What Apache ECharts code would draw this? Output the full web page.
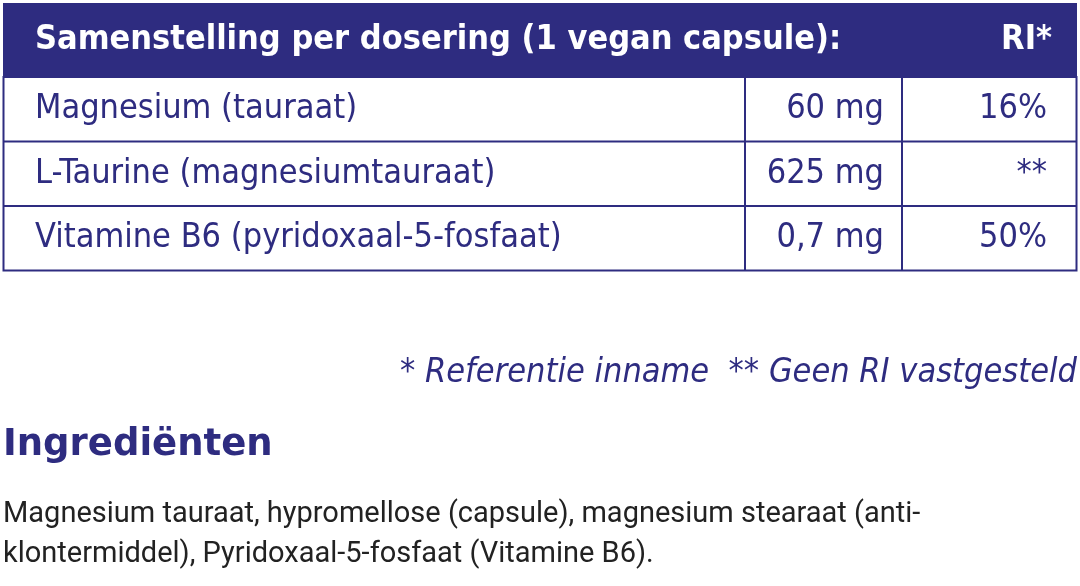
<!DOCTYPE html>
<html>
<head>
<meta charset="utf-8">
<script src="https://cdn.jsdelivr.net/npm/echarts@6/dist/echarts.min.js"></script>
<style>
html, body { margin: 0; padding: 0; background: #fff; }
#main { width: 1080px; height: 586px; }
</style>
</head>
<body>
<div id="main"></div>
<script>
var headerTitle = 'Samenstelling per dosering (1 vegan capsule):';
var headerRI = 'RI*';
var names = ['Magnesium (tauraat)', 'L-Taurine (magnesiumtauraat)', 'Vitamine B6 (pyridoxaal-5-fosfaat)'];
var amounts = ['60 mg', '625 mg', '0,7 mg'];
var riValues = ['16%', '**', '50%'];
var footnote = '* Referentie inname  ** Geen RI vastgesteld';
var ingrTitle = 'Ingrediënten';
var ingrLines = [
    'Magnesium tauraat, hypromellose (capsule), magnesium stearaat (anti-',
    'klontermiddel), Pyridoxaal-5-fosfaat (Vitamine B6).'
];

var navy = '#2e2c80';
var cond = '"Liberation Sans Narrow", "DejaVu Sans Condensed", sans-serif';

var chart = echarts.init(document.getElementById('main'));

var els = [];
// header
els.push({ type: 'rect', shape: { x: 3, y: 3, width: 1074, height: 74 }, style: { fill: navy } });
els.push({ type: 'text', x: 35, y: 40, style: { text: headerTitle, fill: '#fff', font: 'bold 34px ' + cond, textVerticalAlign: 'middle' } });
els.push({ type: 'text', x: 1052, y: 40, style: { text: headerRI, fill: '#fff', font: 'bold 34px ' + cond, textAlign: 'right', textVerticalAlign: 'middle' } });

var rowTop = 77, rowH = 64.5;
// outer border + lines
els.push({ type: 'rect', shape: { x: 3.5, y: rowTop, width: 1073, height: rowH * names.length }, style: { fill: 'none', stroke: navy, lineWidth: 2 } });
for (var i = 1; i < names.length; i++) {
    els.push({ type: 'line', shape: { x1: 3, y1: rowTop + rowH * i, x2: 1077, y2: rowTop + rowH * i }, style: { stroke: navy, lineWidth: 2 } });
}
[745, 902].forEach(function (x) {
    els.push({ type: 'line', shape: { x1: x, y1: rowTop, x2: x, y2: rowTop + rowH * names.length }, style: { stroke: navy, lineWidth: 2 } });
});
names.forEach(function (n, i) {
    var cy = rowTop + rowH * i + rowH / 2;
    els.push({ type: 'text', x: 35, y: cy, style: { text: n, fill: navy, font: '34px ' + cond, textVerticalAlign: 'middle' } });
    els.push({ type: 'text', x: 884, y: cy, style: { text: amounts[i], fill: navy, font: '34px ' + cond, textAlign: 'right', textVerticalAlign: 'middle' } });
    els.push({ type: 'text', x: 1047, y: cy, style: { text: riValues[i], fill: navy, font: '34px ' + cond, textAlign: 'right', textVerticalAlign: 'middle' } });
});
// footnote
els.push({ type: 'text', x: 1077, y: 373, style: { text: footnote, fill: navy, font: 'italic 34px ' + cond, textAlign: 'right', textVerticalAlign: 'middle' } });
// ingredients
els.push({ type: 'text', x: 3, y: 445, style: { text: ingrTitle, fill: navy, font: 'bold 37px "DejaVu Sans", sans-serif', textVerticalAlign: 'middle' } });
ingrLines.forEach(function (l, i) {
    els.push({ type: 'text', x: 3, y: 515 + i * 40, style: { text: l, fill: '#222', font: '29px Roboto, "Noto Sans", sans-serif', textVerticalAlign: 'middle' } });
});

chart.setOption({ animation: false, graphic: { elements: els } });
</script>
</body>
</html>
